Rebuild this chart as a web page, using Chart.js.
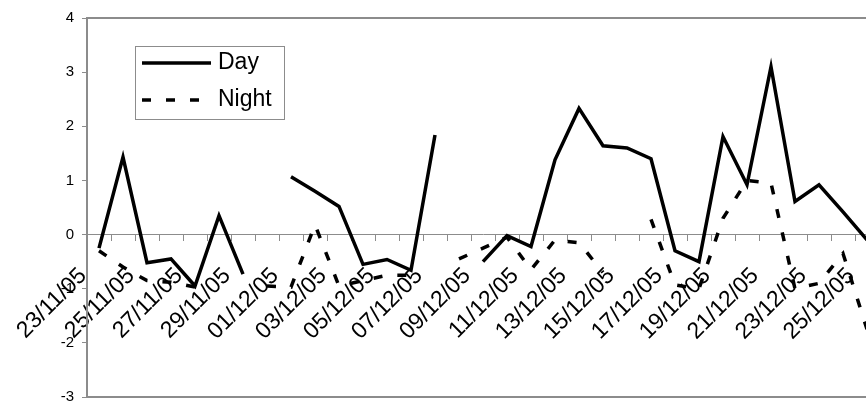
<!DOCTYPE html>
<html>
<head>
<meta charset="utf-8">
<script src="https://cdn.jsdelivr.net/npm/chart.js@4.4.1/dist/chart.umd.min.js"></script>
<style>
  html, body { margin: 0; padding: 0; background: #fff; overflow: hidden; }
  canvas { display: block; }
</style>
</head>
<body>
<canvas id="chart" width="879" height="404"></canvas>
<script>
// categories (one per day)
const dates = [
  "23/11/05", "24/11/05", "25/11/05", "26/11/05", "27/11/05", "28/11/05",
  "29/11/05", "30/11/05", "01/12/05", "02/12/05", "03/12/05", "04/12/05",
  "05/12/05", "06/12/05", "07/12/05", "08/12/05", "09/12/05", "10/12/05",
  "11/12/05", "12/12/05", "13/12/05", "14/12/05", "15/12/05", "16/12/05",
  "17/12/05", "18/12/05", "19/12/05", "20/12/05", "21/12/05", "22/12/05",
  "23/12/05", "24/12/05", "25/12/05"
];

// series values (null = no reading)
const dayValues = [
  -0.25, 1.43, -0.52, -0.45, -0.95, 0.35, -0.73, null, 1.07, 0.8, 0.52,
  -0.55, -0.46, -0.66, 1.84, null, -0.5, -0.02, -0.22, 1.38, 2.33, 1.64,
  1.6, 1.4, -0.3, -0.5, 1.81, 0.92, 3.1, 0.61, 0.92, 0.42, -0.1
];
const nightValues = [
  -0.3, -0.6, -0.85, -0.88, -0.97, null, null, -0.95, -0.97, 0.18, -0.95,
  -0.85, -0.75, -0.75, null, -0.45, -0.25, -0.05, -0.65, -0.1, -0.15, -0.7,
  null, 0.28, -0.93, -1.0, 0.3, 1.0, 0.95, -1.0, -0.9, -0.35, -1.75
];

const seriesNames = ["Day", "Night"];
const yMin = -3;
const yMax = 4;

const FONT = "'Liberation Sans', Arial, sans-serif";
const GREY = "#8c8c8c";

// cadre gris autour de la zone de tracé
const plotFrame = {
  id: "plotFrame",
  beforeDatasetsDraw(chart, args, opts) {
    const { ctx, chartArea: a } = chart;
    ctx.save();
    ctx.strokeStyle = opts.color;
    ctx.lineWidth = opts.width;
    ctx.strokeRect(a.left, a.top, a.right - a.left, a.bottom - a.top);
    ctx.restore();
  }
};

// légende encadrée dans la zone de tracé
const boxLegend = {
  id: "boxLegend",
  afterDatasetsDraw(chart, args, o) {
    const ctx = chart.ctx;
    ctx.save();
    ctx.fillStyle = "#fff";
    ctx.fillRect(o.x, o.y, o.width, o.height);
    ctx.strokeStyle = o.borderColor;
    ctx.lineWidth = 1;
    ctx.strokeRect(o.x + 0.5, o.y + 0.5, o.width, o.height);
    chart.data.datasets.forEach((ds, i) => {
      const cy = o.y + o.firstRow + i * o.rowGap;
      ctx.beginPath();
      ctx.setLineDash(ds.borderDash || []);
      ctx.lineWidth = ds.borderWidth;
      ctx.strokeStyle = ds.borderColor;
      ctx.moveTo(o.x + o.lineStart, cy);
      ctx.lineTo(o.x + o.lineStart + o.lineLength, cy);
      ctx.stroke();
      ctx.setLineDash([]);
      ctx.fillStyle = "#000";
      ctx.font = o.font;
      ctx.textBaseline = "middle";
      ctx.textAlign = "left";
      ctx.fillText(ds.label, o.x + o.textStart, cy);
    });
    ctx.restore();
  }
};

new Chart(document.getElementById("chart"), {
  type: "line",
  data: {
    labels: dates,
    datasets: [
      {
        label: seriesNames[0],
        data: dayValues,
        borderColor: "#000",
        borderWidth: 3.5,
        pointRadius: 0,
        tension: 0,
        spanGaps: false
      },
      {
        label: seriesNames[1],
        data: nightValues,
        borderColor: "#000",
        borderWidth: 3.5,
        borderDash: [9, 15],
        pointRadius: 0,
        tension: 0,
        spanGaps: false
      }
    ]
  },
  options: {
    responsive: false,
    animation: false,
    devicePixelRatio: 1,
    layout: { padding: { top: 18, bottom: 7, left: 0, right: 0 } },
    scales: {
      x: {
        type: "category",
        position: { y: 0 },
        offset: true,
        afterFit(scale) {
          scale.height = 0;
          scale.paddingLeft = 0;
          scale.paddingRight = 0;
        },
        grid: {
          offset: true,
          drawOnChartArea: false,
          drawTicks: true,
          tickLength: 6,
          color: GREY,
          lineWidth: 1
        },
        border: { display: true, color: GREY, width: 1 },
        ticks: {
          autoSkip: false,
          minRotation: 45,
          maxRotation: 45,
          padding: 22,
          labelOffset: -16,
          color: "#000",
          font: { family: FONT, size: 23 },
          callback: (v, i) => (i % 2 === 0 ? dates[i] : "")
        }
      },
      y: {
        min: yMin,
        max: yMax,
        afterFit(scale) {
          scale.width = 87;
          scale.paddingTop = 0;
          scale.paddingBottom = 0;
        },
        ticks: {
          stepSize: 1,
          padding: 8,
          color: "#000",
          font: { family: FONT, size: 15 }
        },
        grid: {
          drawOnChartArea: false,
          tickLength: 5,
          color: GREY,
          lineWidth: 1
        },
        border: { color: GREY, width: 2 }
      }
    },
    plugins: {
      legend: { display: false },
      tooltip: { enabled: false },
      plotFrame: { color: GREY, width: 2 },
      boxLegend: {
        x: 135, y: 46, width: 149, height: 73,
        borderColor: GREY,
        firstRow: 17, rowGap: 37,
        lineStart: 7, lineLength: 69, textStart: 83,
        font: "23px " + FONT
      }
    }
  },
  plugins: [plotFrame, boxLegend]
});
</script>
</body>
</html>
